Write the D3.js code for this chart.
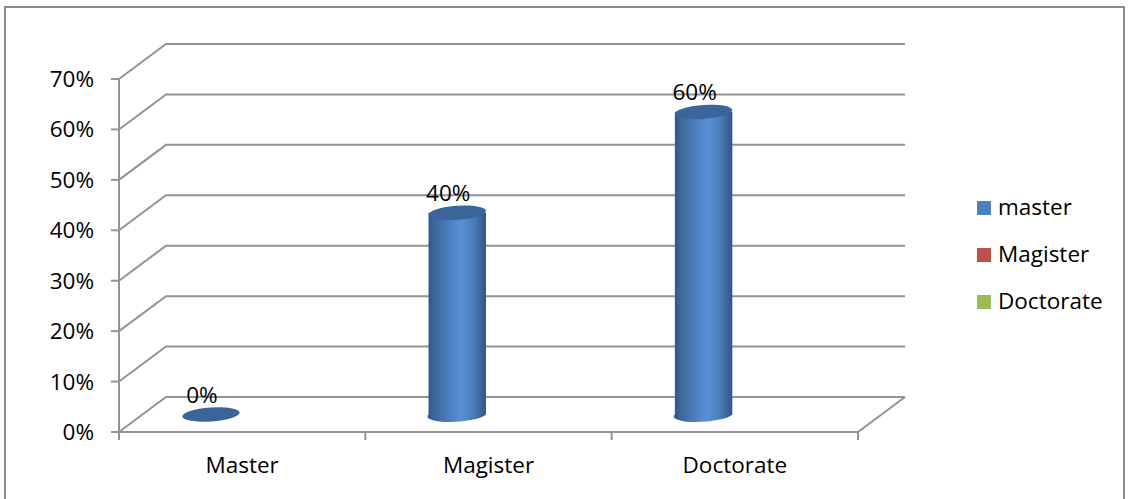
<!DOCTYPE html>
<html>
<head>
<meta charset="utf-8">
<script src="https://cdn.jsdelivr.net/npm/d3@7"></script>
<style>
  html, body { margin: 0; padding: 0; background: #fff; }
  svg { display: block; }
  text { font-family: "Open Sans", Carlito, Calibri, sans-serif; fill: #000; }
</style>
</head>
<body>
<svg id="chart" width="1128" height="499"></svg>
<script>
// Chart data
const categories = ["Master", "Magister", "Doctorate"];
const seriesNames = ["master", "Magister", "Doctorate"];
const masterValues = [0, 0.40, 0.60];
const magisterValues = [null, null, null];
const doctorateValues = [null, null, null];
const seriesColors = ["#4F81BD", "#C0504D", "#9BBB59"];
const yTicks = [0, 0.1, 0.2, 0.3, 0.4, 0.5, 0.6, 0.7];
const valueLabels = ["0%", "40%", "60%"];

const seriesValues = [masterValues, magisterValues, doctorateValues];

const svg = d3.select("#chart");
const fontSize = 22.5;

// Outer frame
svg.append("rect")
  .attr("x", 5).attr("y", 7)
  .attr("width", 1119).attr("height", 510)
  .attr("fill", "none").attr("stroke", "#8a8a8a").attr("stroke-width", 2);

// Plot geometry: front plane and depth offset of the 3D box
const front = { left: 119, right: 858, bottom: 432, top: 79 };
const depth = { dx: 47, dy: -35 };

const y = d3.scaleLinear().domain([0, 0.7]).range([front.bottom, front.top]);
const x = d3.scaleBand().domain(categories).range([front.left, front.right]).padding(0);
const xSeries = d3.scaleBand().domain(seriesNames).range([0, x.bandwidth()])
  .paddingInner(0).paddingOuter(0.75);

const gridColor = "#939393";
const grid = svg.append("g").attr("stroke", gridColor).attr("stroke-width", 2).attr("fill", "none");

// Back wall gridlines and side wall diagonals
yTicks.forEach(t => {
  const yf = y(t);
  grid.append("path")
    .attr("d", `M${front.left},${yf} L${front.left + depth.dx},${yf + depth.dy} L${front.right + depth.dx},${yf + depth.dy}`);
});

// Floor front edge and right edge
grid.append("path")
  .attr("d", `M${front.left},${front.bottom} L${front.right},${front.bottom} L${front.right + depth.dx},${front.bottom + depth.dy}`);

// Value axis line and ticks
grid.append("line")
  .attr("x1", front.left).attr("x2", front.left)
  .attr("y1", y(0.7)).attr("y2", y(0));
yTicks.forEach(t => {
  grid.append("line")
    .attr("x1", front.left - 8).attr("x2", front.left)
    .attr("y1", y(t)).attr("y2", y(t));
});

// Category ticks
const catEdges = categories.map(c => x(c)).concat([front.right]);
catEdges.forEach(xe => {
  grid.append("line")
    .attr("x1", xe).attr("x2", xe)
    .attr("y1", front.bottom).attr("y2", front.bottom + 8);
});

// Value axis labels
svg.append("g").selectAll("text")
  .data(yTicks).join("text")
  .attr("x", 94)
  .attr("y", d => y(d) + 8)
  .attr("text-anchor", "end")
  .attr("font-size", fontSize)
  .text(d => d3.format(".0%")(d));

// Category labels
svg.append("g").selectAll("text")
  .data(categories).join("text")
  .attr("x", d => x(d) + x.bandwidth() / 2)
  .attr("y", 473)
  .attr("text-anchor", "middle")
  .attr("font-size", fontSize)
  .text(d => d);

// Cylinder shading
const defs = svg.append("defs");
const grad = defs.append("linearGradient").attr("id", "cyl").attr("x1", "0").attr("x2", "1").attr("y1", "0").attr("y2", "0");
[["0%", "#2f5585"], ["12%", "#3d679c"], ["40%", "#4f81c2"], ["58%", "#5a90d6"], ["80%", "#4a7ab7"], ["100%", "#2f5585"]]
  .forEach(([o, c]) => grad.append("stop").attr("offset", o).attr("stop-color", c));

// Cylinders sit halfway into the depth of the box
const mid = { dx: depth.dx / 2, dy: depth.dy / 2 };
const barW = xSeries.bandwidth() * 1.05;
const ry = 7;
const tilt = -4;

const bars = svg.append("g");
seriesValues.forEach((vals, si) => {
  vals.forEach((v, ci) => {
    if (v === null) return;
    const cx = x(categories[ci]) + xSeries(seriesNames[si]) + xSeries.bandwidth() / 2 + mid.dx;
    const yBase = y(0) + mid.dy;
    const yTop = y(v) + mid.dy;
    const rx = barW / 2;
    const g = bars.append("g");
    if (v > 0) {
      g.append("path")
        .attr("d", `M${cx - rx},${yTop} L${cx - rx},${yBase} A${rx},${ry} ${tilt} 0 0 ${cx + rx},${yBase} L${cx + rx},${yTop} Z`)
        .attr("fill", "url(#cyl)");
    }
    g.append("ellipse")
      .attr("cx", cx).attr("cy", yTop)
      .attr("rx", rx).attr("ry", ry)
      .attr("transform", `rotate(${tilt},${cx},${yTop})`)
      .attr("fill", "#3b659a");
    // Data label
    svg.append("text")
      .attr("x", cx - 9)
      .attr("y", yTop - 12)
      .attr("text-anchor", "middle")
      .attr("font-size", fontSize)
      .text(valueLabels[ci]);
  });
});

// Legend
const legend = svg.append("g");
seriesNames.forEach((name, i) => {
  const ly = 201 + i * 47;
  legend.append("rect")
    .attr("x", 977).attr("y", ly)
    .attr("width", 14).attr("height", 14)
    .attr("fill", seriesColors[i]);
  legend.append("text")
    .attr("x", 998).attr("y", ly + 14)
    .attr("font-size", fontSize)
    .text(name);
});
</script>
</body>
</html>
